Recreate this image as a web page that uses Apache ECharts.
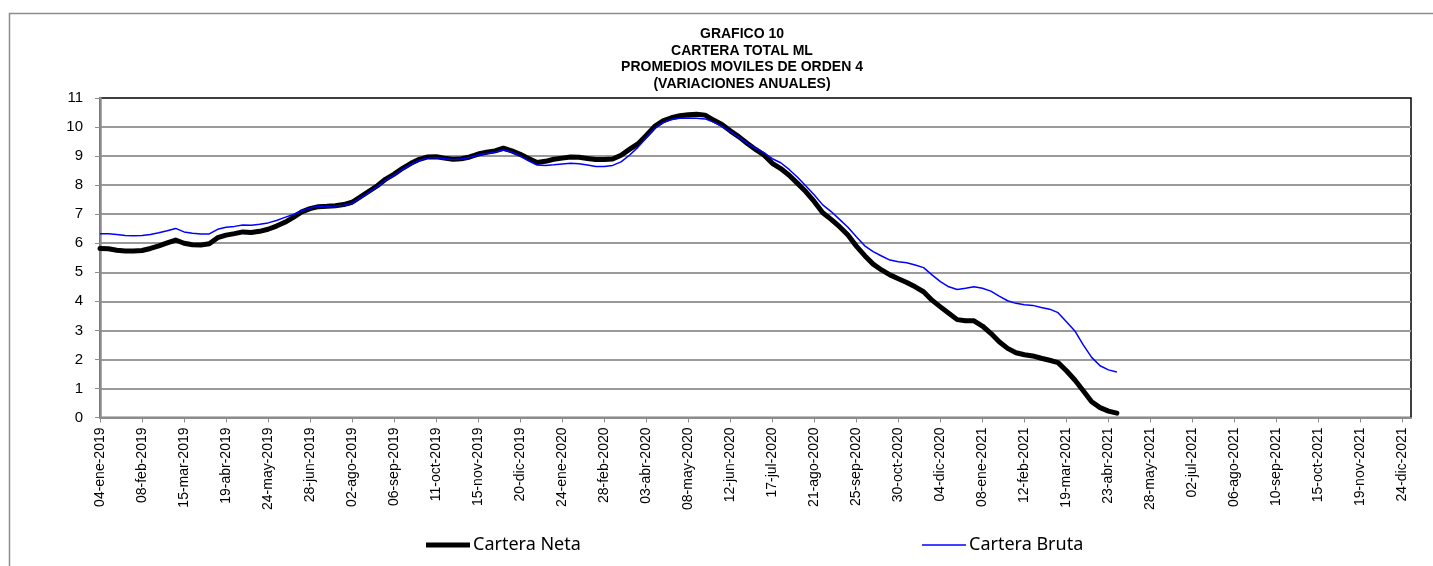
<!DOCTYPE html>
<html>
<head>
<meta charset="utf-8">
<script src="https://cdn.jsdelivr.net/npm/echarts@6/dist/echarts.min.js"></script>
<style>
  html, body { margin: 0; padding: 0; background: #fff; }
  #grafico { width: 1433px; height: 566px; }
</style>
</head>
<body>
<div id="grafico"></div>
<script>
// semanas (viernes) desde 04-ene-2019 hasta 31-dic-2021
var meses = ['ene', 'feb', 'mar', 'abr', 'may', 'jun', 'jul', 'ago', 'sep', 'oct', 'nov', 'dic'];
var fechaInicio = Date.UTC(2019, 0, 4);
var numSemanas = 157;

// variaciones anuales (%), promedio movil de orden 4
var carteraNeta = [
    5.82, 5.81, 5.76, 5.73, 5.73, 5.75, 5.82, 5.91, 6.01, 6.11,
    6.00, 5.95, 5.94, 5.98, 6.19, 6.28, 6.33, 6.39, 6.37, 6.41,
    6.48, 6.59, 6.72, 6.89, 7.08, 7.19, 7.26, 7.27, 7.29, 7.33,
    7.41, 7.60, 7.79, 7.98, 8.21, 8.38, 8.58, 8.75, 8.89, 8.97,
    8.98, 8.93, 8.89, 8.91, 8.97, 9.07, 9.13, 9.18, 9.27, 9.18,
    9.06, 8.92, 8.78, 8.82, 8.89, 8.93, 8.97, 8.96, 8.92, 8.88,
    8.88, 8.90, 9.03, 9.23, 9.42, 9.71, 10.02, 10.21, 10.32, 10.39,
    10.42, 10.44, 10.41, 10.24, 10.09, 9.87, 9.67, 9.44, 9.23, 9.04,
    8.75, 8.57, 8.34, 8.06, 7.77, 7.43, 7.05, 6.82, 6.57, 6.28,
    5.90, 5.57, 5.28, 5.08, 4.91, 4.78, 4.65, 4.50, 4.33, 4.04,
    3.81, 3.59, 3.37, 3.33, 3.33, 3.15, 2.90, 2.61, 2.38, 2.23,
    2.16, 2.12, 2.04, 1.97, 1.89, 1.61, 1.29, 0.92, 0.54, 0.34,
    0.22, 0.15
];
var carteraBruta = [
    6.33, 6.33, 6.30, 6.27, 6.26, 6.27, 6.30, 6.36, 6.43, 6.51,
    6.39, 6.34, 6.32, 6.32, 6.48, 6.55, 6.58, 6.63, 6.62, 6.65,
    6.70, 6.78, 6.89, 6.99, 7.12, 7.21, 7.27, 7.27, 7.28, 7.31,
    7.38, 7.56, 7.75, 7.95, 8.17, 8.34, 8.54, 8.71, 8.85, 8.93,
    8.95, 8.91, 8.88, 8.90, 8.95, 9.04, 9.09, 9.13, 9.21, 9.14,
    9.00, 8.84, 8.69, 8.68, 8.70, 8.73, 8.75, 8.74, 8.69, 8.64,
    8.64, 8.68, 8.80, 9.03, 9.30, 9.63, 9.95, 10.16, 10.26, 10.30,
    10.31, 10.30, 10.28, 10.17, 10.03, 9.84, 9.65, 9.44, 9.27, 9.12,
    8.91, 8.77, 8.54, 8.27, 7.97, 7.66, 7.32, 7.09, 6.82, 6.55,
    6.22, 5.91, 5.71, 5.56, 5.42, 5.36, 5.33, 5.25, 5.16, 4.91,
    4.68, 4.50, 4.41, 4.45, 4.50, 4.45, 4.35, 4.18, 4.02, 3.93,
    3.88, 3.86, 3.79, 3.73, 3.61, 3.30, 2.98, 2.50, 2.07, 1.78,
    1.64, 1.57
];

var tituloLineas = ['GRAFICO 10', 'CARTERA TOTAL ML', 'PROMEDIOS MOVILES DE ORDEN 4', '(VARIACIONES ANUALES)'];

// etiquetas del eje x: dd-mmm-aaaa
function fmtFecha(ms) {
    var d = new Date(ms);
    var dd = d.getUTCDate();
    return (dd < 10 ? '0' + dd : '' + dd) + '-' + meses[d.getUTCMonth()] + '-' + d.getUTCFullYear();
}
var fechas = [];
for (var i = 0; i < numSemanas; i++) {
    fechas.push(fmtFecha(fechaInicio + i * 7 * 86400000));
}

var chart = echarts.init(document.getElementById('grafico'));
var fuente = 'Liberation Sans, Arial, sans-serif';

// leyenda: una por serie, con la raya del grosor de la linea
function leyenda(nombre, x, grosor, color) {
    return {
        data: [{ name: nombre, icon: 'rect', itemStyle: { color: color } }],
        left: x,
        top: 529,
        itemWidth: 44,
        itemHeight: grosor,
        itemGap: 5,
        textStyle: { fontFamily: 'Noto Sans', fontSize: 18, lineHeight: 22, color: '#000', padding: [0, 0, 0, -2] }
    };
}

var option = {
    animation: false,
    backgroundColor: '#fff',
    graphic: [{
        type: 'rect',
        left: 7, top: 11,
        shape: { width: 1460, height: 600 },
        style: { fill: 'none', stroke: '#8c8c8c', lineWidth: 1.5 },
        silent: true
    }],
    title: {
        text: tituloLineas.join('\n'),
        left: 737,
        top: 21,
        textAlign: 'center',
        textStyle: {
            fontFamily: fuente,
            fontSize: 14,
            fontWeight: 'bold',
            lineHeight: 16.5,
            color: '#000'
        }
    },
    legend: [
        leyenda('Cartera Neta', 421, 5, '#000'),
        leyenda('Cartera Bruta', 917, 1.5, '#0000ff')
    ],
    grid: {
        left: 100,
        right: 22,
        top: 98,
        bottom: 148.5,
        show: true,
        borderColor: '#000',
        borderWidth: 1.5,
        containLabel: false
    },
    xAxis: {
        type: 'category',
        data: fechas,
        boundaryGap: false,
        axisLine: { lineStyle: { color: '#8c8c8c', width: 2 } },
        axisTick: { show: true, interval: 4, length: 5, lineStyle: { color: '#8c8c8c', width: 1 } },
        axisLabel: {
            interval: 4,
            rotate: 90,
            margin: 10,
            fontFamily: fuente,
            fontSize: 14,
            color: '#000'
        },
        splitLine: { show: false }
    },
    yAxis: {
        type: 'value',
        min: 0,
        max: 11,
        interval: 1,
        axisLine: { show: true, lineStyle: { color: '#8c8c8c', width: 2.5 } },
        axisTick: { show: true, length: 5, lineStyle: { color: '#8c8c8c', width: 1 } },
        axisLabel: {
            margin: 17,
            fontFamily: fuente,
            fontSize: 15,
            color: '#000'
        },
        splitLine: {
            show: true,
            showMinLine: false,
            showMaxLine: false,
            lineStyle: { color: '#9a9a9a', width: 2 }
        }
    },
    series: [{
        name: 'Cartera Neta',
        type: 'line',
        data: carteraNeta,
        symbol: 'none',
        z: 2,
        lineStyle: { color: '#000', width: 5, join: 'round', cap: 'round' },
        itemStyle: { color: '#000' }
    }, {
        name: 'Cartera Bruta',
        type: 'line',
        data: carteraBruta,
        symbol: 'none',
        z: 3,
        lineStyle: { color: '#0000ff', width: 1.5 },
        itemStyle: { color: '#0000ff' }
    }]
};
chart.setOption(option);
</script>
</body>
</html>
